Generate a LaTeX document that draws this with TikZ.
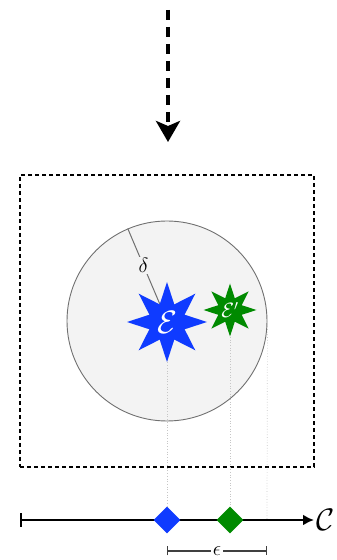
\documentclass[tikz,border=0pt]{standalone}
\usepackage{amsmath, amssymb}
\usepackage{graphicx}
\usepackage{xcolor}
\usetikzlibrary{arrows.meta, positioning, shapes.geometric, calc}
\definecolor{cblue}{HTML}{0F3BFF}
\definecolor{cgreen}{HTML}{008A00}
\definecolor{czone}{HTML}{F3F3F3}
\definecolor{cedge}{HTML}{707070}

\begin{document}
\begin{tikzpicture}[
  x=1pt, y=1pt,
  font=\small,
  frame/.style={draw, line width=2pt, dash pattern=on 4pt off 3pt,
                minimum width=294pt, minimum height=292pt, inner sep=0pt},
  zone/.style={circle, draw=cedge, fill=czone, line width=0.9pt,
               minimum size=200pt, inner sep=0pt},
  event/.style={star, star points=8, star point ratio=2.1, inner sep=0pt,
                text=white},
  pin/.style={diamond, minimum size=27pt, inner sep=0pt},
  proj/.style={draw=gray!45, dotted, line width=0.7pt},
  ]
\useasboundingbox (0,0) rectangle (337,560);
% incoming flow
\coordinate (src) at (168,550);
\coordinate (dst) at (168,418);
\draw[line width=4pt, dash pattern=on 10pt off 7pt,
      -{Stealth[length=21pt, width=24pt, inset=5pt]}] (src) -- (dst);
% region
\node[frame] (box) at (167,239) {};
\node[zone] (ball) at (167,239) {};
\draw[cedge, line width=1pt] (ball.center) -- node[pos=0.6, fill=czone, inner sep=1pt, text=black, font=\huge] {$\delta$} (ball.113);
% axis
\coordinate (cstart) at (20,40);
\coordinate (cend) at (314,40);
\draw[line width=2.2pt, {Bar[width=14pt]}-{Latex[length=11pt, width=11pt]}] (cstart) -- (cend);
\node[right=0pt of cend, inner sep=2pt, font=\Huge] (clabel) {\scalebox{1.25}{$\mathcal{C}$}};
\node[pin, fill=cblue] (m1) at (167,40) {};
\node[pin, fill=cgreen] (m2) at (230,40) {};
\coordinate (rim) at (267,40);
% projections
\coordinate (e1) at (167,238);
\coordinate (e2) at (230,250);
\draw[proj] (e1) -- (m1.north);
\draw[proj] (e2) -- (m2.north);
\draw[proj] (ball.east) -- (rim);
% events
\node[event, fill=cblue, minimum size=80pt, font=\Huge] (ev1) at (e1) {\scalebox{1.3}{$\mathcal{E}$}};
\node[event, fill=cgreen, minimum size=53pt, font=\huge] (ev2) at (e2) {$\mathcal{E}'$};
% tolerance
\coordinate (tl) at (167,9);
\coordinate (tr) at (267,9);
\draw[line width=1.4pt, black!75, {Bar[width=9pt]}-{Bar[width=9pt]}] (tl) -- node[fill=white, inner sep=2pt, text=black, font=\huge] {$\epsilon$} (tr);
\end{tikzpicture}
\end{document}
